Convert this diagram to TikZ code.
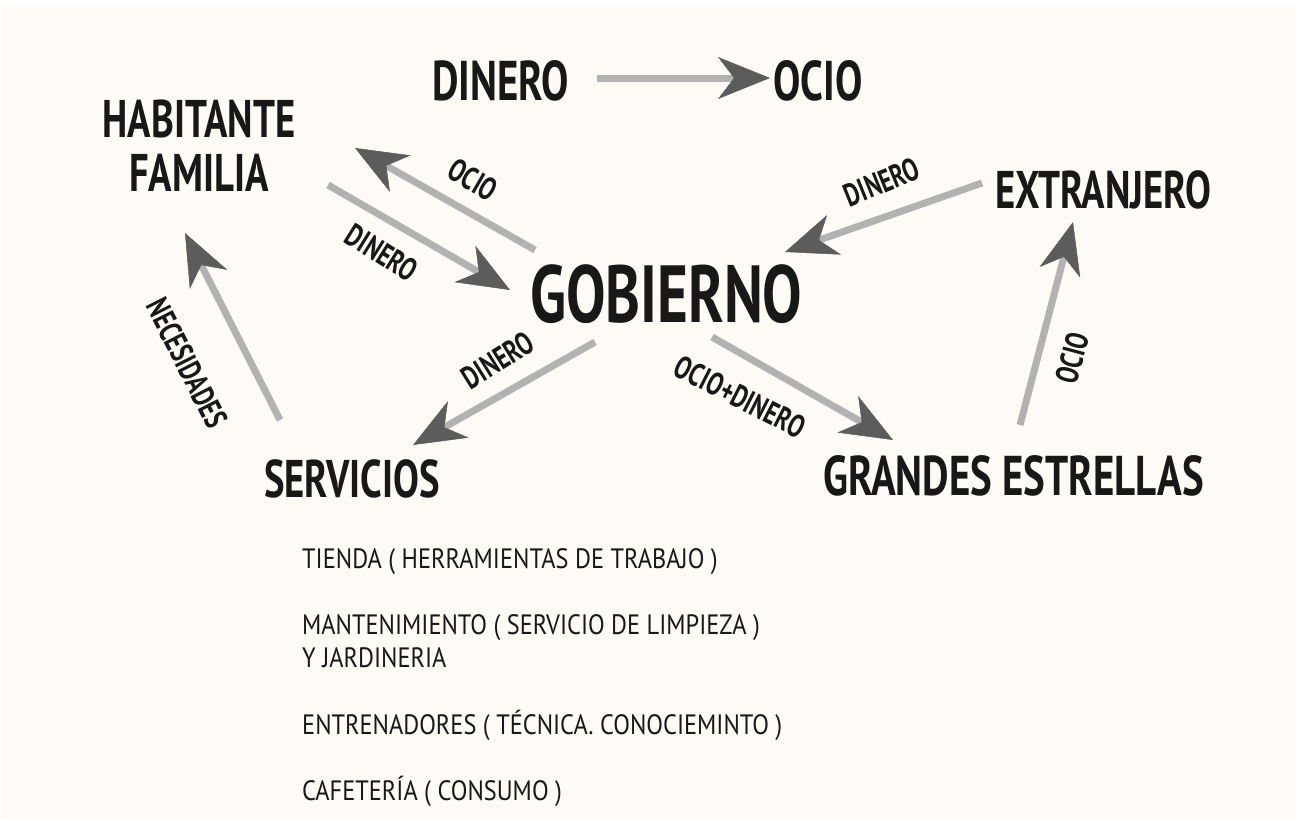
\documentclass[tikz,border=0pt]{standalone}
\usepackage{fontspec}
\setmainfont{PT Sans}
\newfontfamily\hand[FakeStretch=0.73]{PT Sans Bold}
\newfontfamily\handw[FakeStretch=0.87]{PT Sans}
\usetikzlibrary{arrows.meta}
\definecolor{paper}{RGB}{254,250,246}
\definecolor{ink}{RGB}{24,24,24}

\tikzset{
  word/.style={inner sep=0pt, text=ink, anchor=base west},
  huge/.style={word, font=\hand\fontsize{81}{81}\selectfont},
  big/.style={word, font=\hand\fontsize{56}{56}\selectfont},
  mid/.style={word, font=\hand\fontsize{53}{54}\selectfont},
  lbl/.style={inner sep=0pt, text=ink, font=\hand\fontsize{32}{32}\selectfont},
  item/.style={word, font=\handw\fontsize{28}{33}\selectfont, align=left},
  flow/.style={line width=7pt, draw=gray!60,
    -{Stealth[length=52pt, width=42pt, inset=16pt, line width=0.5pt, color=black!64]}}
}

\begin{document}
\begin{tikzpicture}[x=1pt,y=-1pt]
  \fill[white] (0,0) rectangle (1296,819);
  \fill[paper] (2,5) rectangle (1296,819);
  \useasboundingbox (0,0) rectangle (1296,819);

  % main words
  \node[big] (dinero) at (432,100) {DINERO};
  \node[big] (ocio) at (773,100) {OCIO};
  \node[mid, align=center, anchor=center] (hab) at (199,146) {HABITANTE\\FAMILIA};
  \node[huge] (gob) at (530,322) {GOBIERNO};
  \node[mid] (ext) at (995,208) {EXTRANJERO};
  \node[mid] (serv) at (264,497) {SERVICIOS};
  \node[big] (ge) at (823,495) {GRANDES ESTRELLAS};

  % list under servicios
  \node[item] (tienda) at (302,568) {TIENDA ( HERRAMIENTAS DE TRABAJO )};
  \node[item] (mant) at (302,667) {MANTENIMIENTO ( SERVICIO DE LIMPIEZA )\\Y JARDINERIA};
  \node[item] (entr) at (302,734) {ENTRENADORES ( TÉCNICA. CONOCIEMINTO )};
  \node[item] (cafe) at (302,800) {CAFETERÍA ( CONSUMO )};

  % arrows
  \draw[flow] ([shift={(165,-22)}]dinero.base west) -- ([shift={(-3,-22)}]ocio.base west);
  \draw[flow] ([shift={(5,-72)}]gob.base west) -- ([shift={(156,2)}]hab.center);
  \draw[flow] ([shift={(129,39)}]hab.center) -- ([shift={(-20,-32)}]gob.base west);
  \draw[flow] ([shift={(-13,-25)}]ext.base west) -- ([shift={(255,-70)}]gob.base west);
  \draw[flow] ([shift={(65,20)}]gob.base west) -- ([shift={(149,-52)}]serv.base west);
  \draw[flow] ([shift={(182,15)}]gob.base west) -- ([shift={(70,-55)}]ge.base west);
  \draw[flow] ([shift={(16,-77)}]serv.base west) -- ([shift={(-14,87)}]hab.center);
  \draw[flow] ([shift={(197,-70)}]ge.base west) -- ([shift={(78,14)}]ext.base west);

  % arrow labels
  \node[lbl, rotate=-30] (lOcioHab) at (473,180) {OCIO};
  \node[lbl, rotate=-32] (lDinHab) at (382,253) {DINERO};
  \node[lbl, rotate=22] (lDinExt) at (882,182) {DINERO};
  \node[lbl, rotate=32] (lDinServ) at (498,360) {DINERO};
  \node[lbl, rotate=-27] (lOcDin) at (740,397) {OCIO+DINERO};
  \node[lbl, rotate=-63] (lNec) at (187,363) {NECESIDADES};
  \node[lbl, rotate=75] (lOcioExt) at (1072,358) {OCIO};
\end{tikzpicture}
\end{document}
